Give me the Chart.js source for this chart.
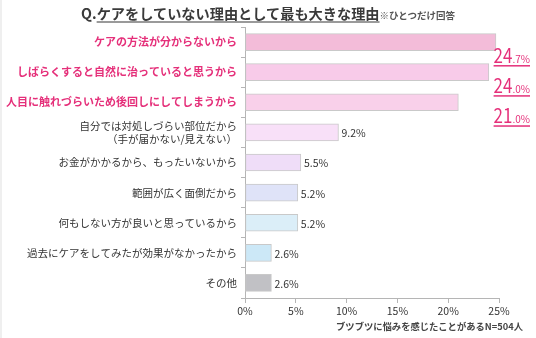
<!DOCTYPE html>
<html>
<head>
<meta charset="utf-8">
<script src="https://cdn.jsdelivr.net/npm/chart.js@4/dist/chart.umd.min.js"></script>
<style>
  html, body { margin: 0; padding: 0; background: #fff; }
  #wrap { position: relative; width: 536px; height: 338px; }
  #strip { position: absolute; left: 0; top: 0; width: 2px; height: 338px; background: #efefef; }
  #title {
    position: absolute; left: 0; right: 0; top: 3px; text-align: center;
    font-family: "Noto Sans CJK JP", sans-serif; font-weight: bold; font-size: 14.2px; color: #3a3a3a;
    white-space: nowrap;
  }
  #title .u { text-decoration: underline; text-decoration-color: #9a9a9a; text-decoration-thickness: 2px; text-underline-offset: 2px; }
  #title small { font-size: 9.5px; color: #555; }
  #note {
    position: absolute; right: 13px; top: 319px;
    font-family: "Noto Sans CJK JP", sans-serif; font-weight: bold; font-size: 9.3px; color: #444;
  }
  canvas { position: absolute; left: 0; top: 0; }
</style>
</head>
<body>
<div id="wrap">
  <canvas id="chart" width="536" height="338"></canvas>
  <div id="strip"></div>
  <div id="title">Q.<span class="u">ケアをしていない理由として最も大きな理由</span><small>※ひとつだけ回答</small></div>
  <div id="note">ブツブツに悩みを感じたことがあるN=504人</div>
</div>
<script>
// DATA

const categories = [
  "ケアの方法が分からないから",
  "しばらくすると自然に治っていると思うから",
  "人目に触れづらいため後回しにしてしまうから",
  ["自分では対処しづらい部位だから", "（手が届かない/見えない）"],
  "お金がかかるから、もったいないから",
  "範囲が広く面倒だから",
  "何もしない方が良いと思っているから",
  "過去にケアをしてみたが効果がなかったから",
  "その他"
];

const values = [24.7, 24.0, 21.0, 9.2, 5.5, 5.2, 5.2, 2.6, 2.6];

const xTicks = [0, 5, 10, 15, 20, 25];

const barColors = [
  "#f3bcd9", "#f8cbe9", "#f9d0ea", "#f8e0f8", "#efddf8",
  "#dfe3f8", "#dbeef8", "#cce8f7", "#c1c1c5"
];

const PINK = "#e5307a";
const JP = "'Noto Sans CJK JP', sans-serif";

// VALUE LABELS

const valueLabels = {
  id: "valueLabels",
  afterDatasetsDraw(chart) {
    const ctx = chart.ctx;
    const meta = chart.getDatasetMeta(0);
    ctx.save();
    meta.data.forEach((bar, i) => {
      const v = values[i].toFixed(1);
      if (i < 3) {
        const parts = v.split(".");
        const big = parts[0];
        const small = "." + parts[1] + "%";
        const right = 530;
        const base = bar.y + 21;
        ctx.font = "20px " + JP;
        const wBig = ctx.measureText(big).width * 0.85;
        ctx.font = "10px " + JP;
        const wSmall = ctx.measureText(small).width;
        const left = right - wBig - wSmall;
        ctx.fillStyle = PINK;
        ctx.textBaseline = "alphabetic";
        ctx.textAlign = "left";
        ctx.save();
        ctx.translate(left, base);
        ctx.scale(0.85, 1);
        ctx.font = "20px " + JP;
        ctx.fillText(big, 0, 0);
        ctx.restore();
        ctx.font = "10px " + JP;
        ctx.fillText(small, left + wBig, base);
        ctx.fillRect(left, base + 2, wBig + wSmall, 1.5);
      } else {
        ctx.font = "10.5px " + JP;
        ctx.fillStyle = "#333";
        ctx.textAlign = "left";
        ctx.textBaseline = "middle";
        ctx.fillText(v + "%", bar.x + 3, bar.y + 1);
      }
    });
    ctx.restore();
  }
};

// GRAPH

new Chart(document.getElementById("chart"), {
  type: "bar",
  data: {
    labels: categories,
    datasets: [{
      data: values,
      backgroundColor: barColors,
      borderColor: "#c9c9c9",
      borderWidth: 1,
      borderSkipped: false,
      barThickness: 17
    }]
  },
  options: {
    indexAxis: "y",
    responsive: false,
    animation: false,
    events: [],
    layout: { padding: { top: 27, right: 37, left: 0, bottom: 0 } },
    plugins: { legend: { display: false }, tooltip: { enabled: false } },
    scales: {
      x: {
        min: 0,
        max: 25,
        afterBuildTicks(scale) { scale.ticks = xTicks.map(v => ({ value: v })); },
        afterFit(scale) { scale.height = 40; },
        grid: { drawOnChartArea: false, drawTicks: true, tickLength: 5, color: "#b5b5b5" },
        border: { color: "#b5b5b5" },
        ticks: {
          padding: 2,
          color: "#333",
          font: { family: JP, size: 10.5 },
          callback: v => v + "%"
        }
      },
      y: {
        afterFit(scale) { scale.width = 245; },
        grid: { drawOnChartArea: false, drawTicks: true, tickLength: 4, color: "#b5b5b5" },
        border: { color: "#b5b5b5" },
        ticks: {
          padding: 4,
          autoSkip: false,
          color: c => c.index < 3 ? PINK : "#333",
          font: c => c.index < 3
            ? { family: JP, size: 11, weight: "bold" }
            : { family: JP, size: 10.5, weight: "normal", lineHeight: 1.2 }
        }
      }
    }
  },
  plugins: [valueLabels]
});
</script>
</body>
</html>
